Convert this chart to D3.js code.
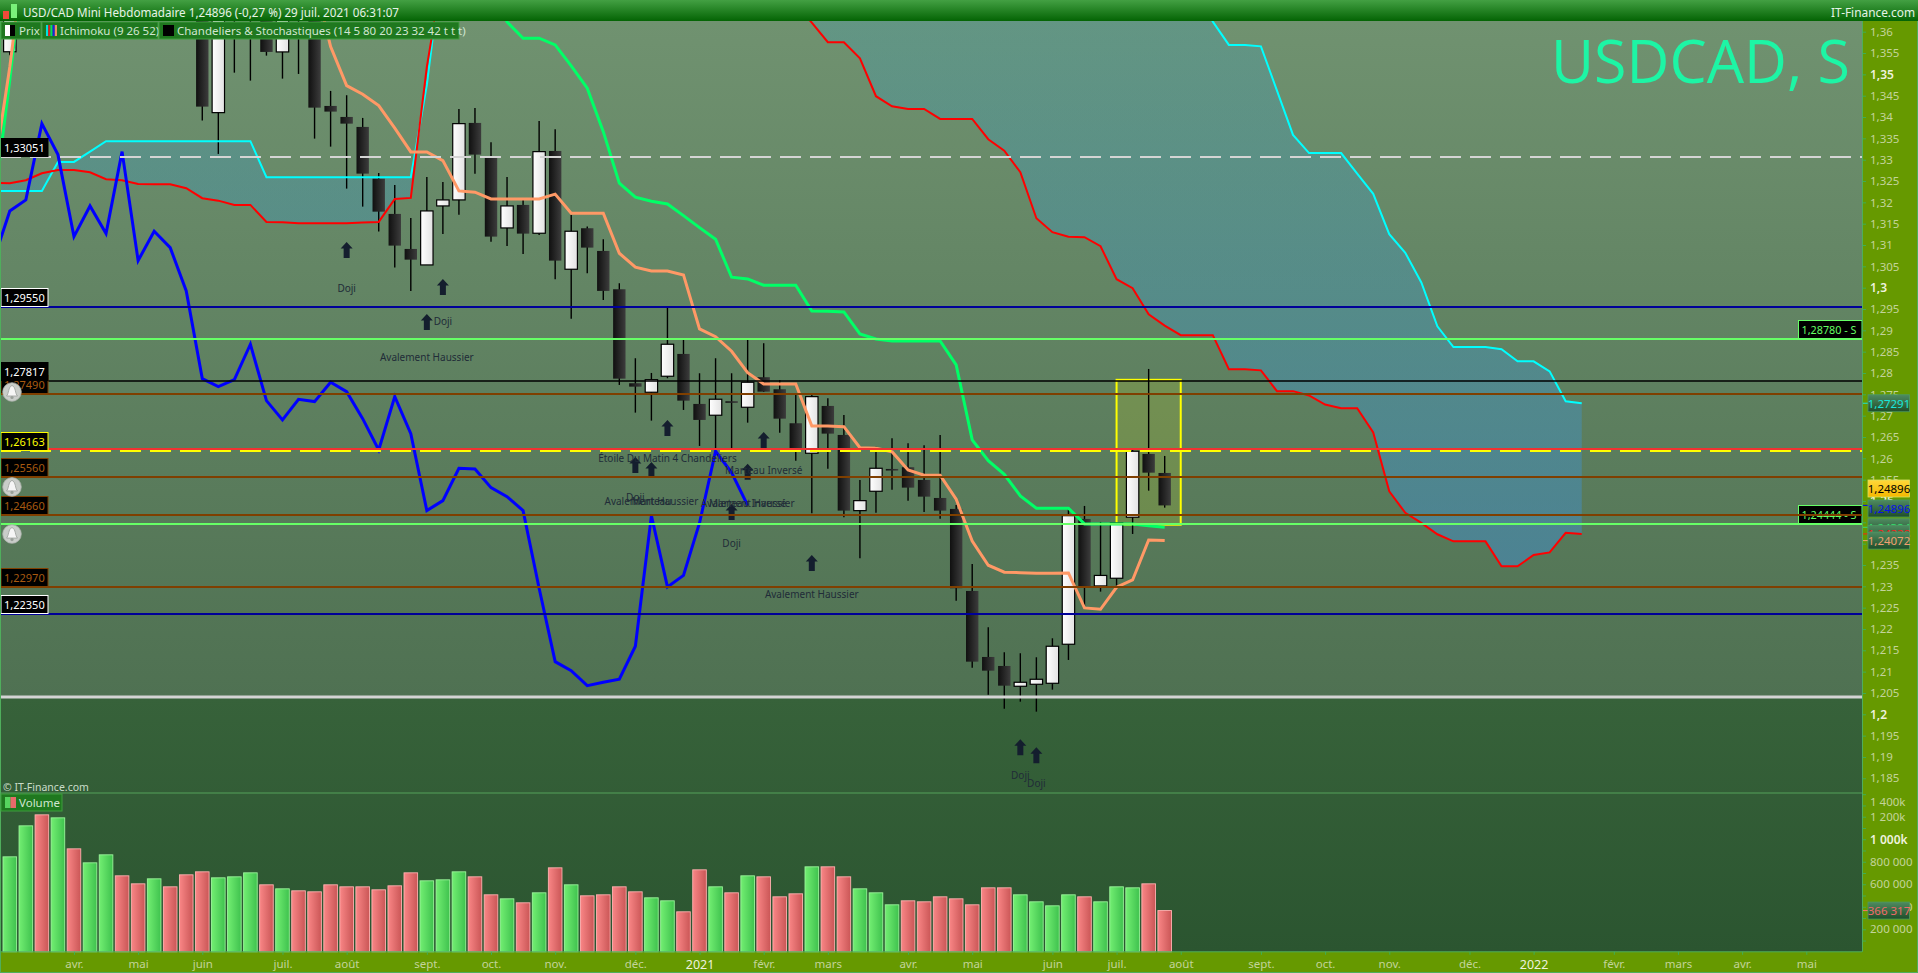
<!DOCTYPE html>
<html>
<head>
<meta charset="utf-8">
<title>USDCAD, S</title>
<script src="https://cdn.jsdelivr.net/npm/d3@7"></script>
<style>
  html, body { margin: 0; padding: 0; background: #669900; overflow: hidden; }
  svg { display: block; font-family: "Noto Sans", sans-serif; }
  .tick text { font-family: "Noto Sans", sans-serif; }
</style>
</head>
<body>
<div id="chart"></div>
<script>
// weekly candles, index 0 is the first visible week. null = above the picture, not readable
var opens = [1.3553,null,null,null,null,null,null,null,null,null,null,null,1.368,1.34103,1.366,1.367,1.366,1.35526,1.369,1.366,
  1.3426,1.34002,1.33768,1.32556,1.31729,1.30908,1.30533,1.31916,1.32057,1.33862,1.33041,1.314,1.3194,1.31276,1.33205,1.30432,1.31393,1.30861,1.29963,1.2776,
  1.27549,1.27924,1.28447,1.27275,1.2701,1.27338,1.27197,1.27901,1.27619,1.26822,1.26119,1.27228,1.26548,1.24774,1.25228,1.25751,1.25791,1.25493,1.25071,1.24814,
  1.22891,1.21344,1.21133,1.20657,1.20704,1.20727,1.21642,1.24579,1.23009,1.23189,1.24619,1.26103,1.25657];
var highs = [1.376,null,null,null,null,null,null,null,null,null,null,null,1.37,1.375,1.372,1.374,1.37,1.369,1.372,1.37,
  1.34612,1.34511,1.33979,1.3269,1.32408,1.31635,1.32596,1.32479,1.3419,1.34213,1.33409,1.32596,1.32057,1.33909,1.33714,1.31705,1.31431,1.31135,1.30104,1.28346,
  1.28001,1.29532,1.28775,1.27994,1.28346,1.27994,1.28775,1.28698,1.27837,1.27486,1.27486,1.27408,1.27017,1.25493,1.26274,1.26471,1.26354,1.26307,1.26548,1.24907,
  1.23524,1.22041,1.21454,1.21431,1.21337,1.21782,1.2483,1.24884,1.24509,1.24485,1.26197,1.28095,1.26056];
var lows = [1.3545,null,null,null,null,null,null,null,null,null,null,null,1.33916,1.33135,1.3504,1.34853,1.35439,1.349,1.3501,1.33494,
  1.33306,1.32322,1.319,1.31314,1.3047,1.29924,1.3053,1.3126,1.31712,1.32673,1.31079,1.30979,1.30791,1.31236,1.30198,1.29274,1.30339,1.29713,1.2772,1.27071,
  1.26883,1.27877,1.27134,1.2629,1.26197,1.2615,1.26836,1.27556,1.26602,1.25946,1.24713,1.25758,1.24619,1.23658,1.24727,1.25266,1.25008,1.24743,1.24586,1.22664,
  1.21093,1.2046,1.20132,1.20296,1.20062,1.20578,1.21274,1.2254,1.22875,1.23009,1.24227,1.25242,1.24844];
var closes = [1.372,null,null,null,null,null,null,null,null,null,null,null,1.34244,1.372,1.369,1.371,1.35526,1.365,1.366,1.3422,
  1.34127,1.33845,1.32673,1.31782,1.30986,1.30657,1.31799,1.32057,1.33845,1.33119,1.31197,1.31916,1.31267,1.33189,1.30634,1.31323,1.30939,1.29924,1.27868,1.2768,
  1.27844,1.28674,1.27352,1.269,1.27385,1.2733,1.27783,1.27563,1.2693,1.26197,1.27446,1.26579,1.24774,1.25008,1.25767,1.2575,1.25313,1.25102,1.24774,1.22955,
  1.21234,1.21023,1.20671,1.20751,1.20821,1.21595,1.24656,1.22985,1.23255,1.24485,1.26166,1.25664,1.24896];

var volumes = [843600,1118900,1216600,1189900,914600,790300,861400,674900,603800,648200,577200,683800,710400,657100,666000,701500,595000,559400,541700,532800,
  595000,577200,577200,550600,586100,701500,630500,639400,710400,666000,506200,470600,435100,523900,745900,595000,497300,506200,577200,532800,
  479500,452900,355200,728200,577200,523900,674900,666000,488400,515000,754800,754800,666000,559400,523900,417400,452900,444000,488400,470600,
  417400,568300,568300,506200,444000,408500,506200,488400,444000,577200,568300,603800,366317];
var volumeUp = [1,1,0,1,0,1,1,0,0,1,0,0,0,1,1,1,0,1,0,0,0,0,0,0,0,0,1,1,1,0,0,1,0,1,0,1,0,0,0,0,
  1,1,0,0,1,0,1,0,0,0,1,0,0,1,1,1,0,0,0,0,0,0,0,1,1,1,1,0,1,1,1,0,0];

// ichimoku lines. Each piece starts at the index named in its Start variable
var chikouStart = -1;
var chikou = [1.30657,1.31799,1.32057,1.33845,1.33119,1.31197,1.31916,1.31267,1.33189,1.30634,1.31323,1.30939,1.29924,1.27868,1.2768,1.27844,1.28674,1.27352,1.269,1.27385,
  1.2733,1.27783,1.27563,1.2693,1.26197,1.27446,1.26579,1.24774,1.25008,1.25767,1.2575,1.25313,1.25102,1.24774,1.22955,1.21234,1.21023,1.20671,1.20751,1.20821,
  1.21595,1.24656,1.22985,1.23255,1.24485,1.26166,1.25664,1.24896];

var tenkanLeftStart = -1;
var tenkanLeft = [1.3269,1.35174,1.3815];
var tenkanStart = 19;
var tenkan = [1.372,1.3565,1.34736,1.34535,1.34267,1.33738,1.33182,1.33182,1.32978,1.32268,1.32237,1.3208,1.3208,1.3208,1.3208,1.32193,1.31745,1.31745,1.31745,1.30807,
  1.30479,1.30392,1.30392,1.30299,1.29033,1.28852,1.2851,1.28009,1.27744,1.27744,1.27744,1.26759,1.26759,1.26743,1.2625,1.26236,1.26156,1.25728,1.25603,1.25603,
  1.25041,1.24063,1.23494,1.2333,1.2332,1.23306,1.23306,1.23313,1.22493,1.22462,1.22978,1.23149,1.24087,1.24072];

var kijunLeftStart = -1;
var kijunLeft = [1.31893,1.3487,1.3815];
var kijunStart = 30;
var kijun = [1.372,1.36229,1.35847,1.35847,1.3569,1.35198,1.34675,1.33658,1.32448,1.3212,1.32026,1.31963,1.31689,1.31407,1.31135,1.30245,1.30205,1.30057,1.30057,1.30057,
  1.29455,1.29448,1.29431,1.28916,1.28799,1.28752,1.28752,1.28752,1.28752,1.28189,1.26431,1.25946,1.25627,1.25118,1.2483,1.2483,1.2483,1.24462,1.24462,1.24462,
  1.24462,1.24422,1.24384];

var senkouLeftStart = -1;
var senkouALeft = [1.32268,1.32268,1.32268,1.32268,1.32948,1.32948,1.33189,1.33433,1.33433,1.33433,1.33433,1.33433,1.33433,1.33433,1.33433,1.33433,1.33433,1.32589,1.32589,1.32589,
  1.32589,1.32589,1.32589,1.32589,1.32589,1.32589,1.32589,1.34753,1.3775];
var senkouBLeft = [1.32455,1.32449,1.32519,1.32683,1.3276,1.3276,1.32706,1.32542,1.32519,1.32432,1.32425,1.32425,1.32331,1.32097,1.3204,1.3194,1.3194,1.31541,1.31534,1.31511,
  1.31511,1.31511,1.31511,1.31525,1.31541,1.3208,1.32104,1.35174,1.3745];

var senkouBRightStart = 49;
var senkouBRight = [1.36628,1.36213,1.35753,1.35753,1.35378,1.34488,1.34253,1.3419,1.3419,1.33956,1.33956,1.33956,1.3348,1.33212,1.32706,1.31628,1.313,1.31196,1.31182,1.30972,
  1.30198,1.29987,1.29378,1.2911,1.28887,1.28887,1.28887,1.28088,1.28088,1.28062,1.27575,1.27575,1.27474,1.27261,1.27176,1.27176,1.26607,1.25226,1.24722,1.24488,
  1.2422,1.24054,1.24054,1.24054,1.23468,1.23468,1.23735,1.23794,1.24253,1.24228];
var senkouARightStart = 74;
var senkouARight = [1.36862,1.36236,1.3569,1.3569,1.35657,1.34619,1.3358,1.33154,1.33154,1.33154,1.32676,1.322,1.31253,1.30817,1.30123,1.29094,1.28609,1.28609,1.28609,1.28557,
  1.28273,1.28273,1.28039,1.27336,1.27291];

// horizontal levels, in the order they are stacked
var levelPrices = [1.33051,1.2955,1.2878,1.2749,1.27817,1.2622,1.26163,1.2556,1.2466,1.24444,1.2297,1.2235,1.204];
var levelLabels = ["1,33051","1,29550","1,28780 - S","1,27490","1,27817",null,"1,26163","1,25560","1,24660","1,24444 - S","1,22970","1,22350",null];
var levelKinds = ["dash","navy","support","brown","black","red","yellow","brown","brown","support","brown","navy","floor"];

var bellPrices = [1.27555,1.2533,1.24225];

// yellow box on the last weeks
var zoneFrom = 69, zoneTo = 73, zoneHigh = 1.2784, zoneLow = 1.24444;

// candle pattern marks
var arrowIndex = [21,27,26,41,47,39,40,46,45,50,63,64];
var arrowPrice = [1.30885,1.30017,1.29197,1.26712,1.26431,1.25845,1.25728,1.25688,1.24743,1.23548,1.19228,1.1904];
var patternText = ["Doji","Doji","Avalement Haussier","Étoile Du Matin 4 Chandeliers","Marteau Inversé","Doji","Avalement Haussier","Marteau","Avalement Haussier","Marteau Inversé","Doji","Avalement Haussier","Doji","Doji"];
var patternIndex = [21,27,26,41,47,39,40,40,46,46,45,50,63,64];
var patternPrice = [1.29978,1.29204,1.2836,1.25993,1.25711,1.25088,1.24985,1.24985,1.24938,1.24938,1.24,1.22805,1.18562,1.18374];

// axis labels
var priceTicks = [1.36,1.355,1.35,1.345,1.34,1.335,1.33,1.325,1.32,1.315,1.31,1.305,1.3,1.295,1.29,1.285,1.28,1.275,1.27,1.265,1.26,1.255,1.25,1.245,1.24,1.235,1.23,1.225,1.22,1.215,1.21,1.205,1.2,1.195,1.19,1.185];
var priceMajor = [1.35,1.3,1.25,1.2];
var volumeTicks = [1400000,1300000,1200000,1100000,1000000,900000,800000,700000,600000,500000,400000,300000,200000,100000];
var volumeTickLabels = {1400000:"1 400k",1200000:"1 200k",1000000:"1 000k",800000:"800 000",600000:"600 000",400000:"400 000",200000:"200 000"};
var monthIndex = [4,8,12,17,21,26,30,34,39,43,47,51,56,60,65,69,73,78,82,86,91,95,100,104,108,112];
var monthLabels = ["avr.","mai","juin","juil.","août","sept.","oct.","nov.","déc.","2021","févr.","mars","avr.","mai","juin","juil.","août","sept.","oct.","nov.","déc.","2022","févr.","mars","avr.","mai"];

// value tags on the right, bottom one last drawn on top
var tagValues = [1.27291,1.24896,1.24896,1.24384,1.24228,1.24072];
var tagTexts = ["1,27291","1,24896","1,24896","1,24384","1,24228","1,24072"];
var tagColors = ["#19e6dc","#000","#0a14e6","#35e070","#ff1a1a","#f0a070"];

var titleText = "USD/CAD Mini Hebdomadaire 1,24896 (-0,27 %) 29 juil. 2021 06:31:07";
var watermark = "USDCAD, S";

var width = 1918, height = 973;
var plotRight = 1862, headerBottom = 21, panelSplit = 793, volumeBottom = 951.8;

var svg = d3.select("#chart").append("svg").attr("width", width).attr("height", height);
var defs = svg.append("defs");

function gradient(id, horizontal, stops){
    var g = defs.append("linearGradient").attr("id", id)
        .attr("x1", 0).attr("y1", 0)
        .attr("x2", horizontal ? 1 : 0).attr("y2", horizontal ? 0 : 1);
    stops.forEach(function(s){
        g.append("stop").attr("offset", s[0]).attr("stop-color", s[1]);
    });
}
gradient("header", false, [[0,"#43a043"],[1,"#046404"]]);
gradient("zoneBg", false, [[0,"#709270"],[1,"#4f7152"]]);
gradient("lowBg", false, [[0,"#37623a"],[1,"#2b5530"]]);
gradient("whiteBody", true, [[0,"#ffffff"],[1,"#e2e2e2"]]);
gradient("blackBody", true, [[0,"#101010"],[1,"#3c3c3c"]]);
gradient("upBar", true, [[0,"#72ee72"],[1,"#3fc24e"]]);
gradient("downBar", true, [[0,"#f98686"],[1,"#ca5656"]]);
gradient("tagBg", false, [[0,"#4f8a60"],[1,"#1f4d2a"]]);
gradient("tagYellow", false, [[0,"#ffd83a"],[1,"#f4b800"]]);

// cloud tint gets stronger toward the bottom of the chart
var cloudGrad = defs.append("linearGradient").attr("id", "cloudFill")
    .attr("gradientUnits", "userSpaceOnUse").attr("x1", 0).attr("x2", 0).attr("y1", 21).attr("y2", 560);
cloudGrad.append("stop").attr("offset", 0).attr("stop-color", "rgb(60,160,190)").attr("stop-opacity", 0.25);
cloudGrad.append("stop").attr("offset", 1).attr("stop-color", "rgb(67,142,205)").attr("stop-opacity", 0.5);

defs.append("clipPath").attr("id", "plotClip").append("rect")
    .attr("x", 0).attr("y", headerBottom).attr("width", plotRight).attr("height", panelSplit - headerBottom);

// scales
var x = d3.scaleLinear().domain([0, 112]).range([9.8, 1806.3]);
var y = d3.scaleLinear().domain([1.2, 1.36]).range([714.3, 31.7]);
var yVol = d3.scaleLinear().domain([0, 1400000]).range([volumeBottom, 794.2]);

// backgrounds
svg.append("rect").attr("width", width).attr("height", height).attr("fill", "#669900");
svg.append("rect").attr("x", 0).attr("y", y(1.204)).attr("width", plotRight).attr("height", volumeBottom - y(1.204)).attr("fill", "url(#lowBg)");
svg.append("rect").attr("x", 0).attr("y", headerBottom).attr("width", plotRight).attr("height", y(1.204) - headerBottom).attr("fill", "url(#zoneBg)");

var plot = svg.append("g").attr("clip-path", "url(#plotClip)");

// cloud
var cloud = d3.area()
    .x(function(d){ return x(d.i); })
    .y0(function(d){ return y(d.b); })
    .y1(function(d){ return y(d.a); });
var cloudLeft = senkouALeft.map(function(a, k){ return {i: senkouLeftStart + k, a: a, b: senkouBLeft[k]}; });
var cloudRight = senkouBRight.map(function(b, k){
    var i = senkouBRightStart + k;
    var a = i >= senkouARightStart ? senkouARight[i - senkouARightStart] : 1.40; // cyan is off the top here
    return {i: i, a: a, b: b};
});
[cloudLeft, cloudRight].forEach(function(c){
    plot.append("path").attr("d", cloud(c)).attr("fill", "url(#cloudFill)");
});

// yellow box
plot.append("rect")
    .attr("x", x(zoneFrom)).attr("y", y(zoneHigh))
    .attr("width", x(zoneTo) - x(zoneFrom)).attr("height", y(zoneLow) - y(zoneHigh))
    .attr("fill", "#ffff00").attr("fill-opacity", 0.13)
    .attr("stroke", "#ffff00").attr("stroke-width", 2);

// candles
var candles = opens.map(function(o, i){
    return {i: i, o: o, h: highs[i], l: lows[i], c: closes[i]};
}).filter(function(d){ return d.o !== null; });

plot.selectAll("line.wick").data(candles).enter().append("line")
    .attr("class", "wick")
    .attr("x1", function(d){ return x(d.i); }).attr("x2", function(d){ return x(d.i); })
    .attr("y1", function(d){ return y(d.h); }).attr("y2", function(d){ return y(d.l); })
    .attr("stroke", "#000").attr("stroke-width", 1.4);

plot.selectAll("rect.body").data(candles).enter().append("rect")
    .attr("class", "body")
    .attr("x", function(d){ return x(d.i) - 6.2; })
    .attr("width", 12.4)
    .attr("y", function(d){ return y(Math.max(d.o, d.c)); })
    .attr("height", function(d){ return Math.max(1.6, Math.abs(y(d.o) - y(d.c))); })
    .attr("fill", function(d){ return d.c > d.o ? "url(#whiteBody)" : "url(#blackBody)"; })
    .attr("stroke", function(d){ return d.c > d.o ? "#000" : "none"; })
    .attr("stroke-width", 1.2);

// ichimoku lines
var lineGen = d3.line()
    .x(function(d){ return x(d.i); })
    .y(function(d){ return y(d.v); });

function drawLine(values, start, color, w){
    var pts = values.map(function(v, k){ return {i: start + k, v: v}; });
    plot.append("path").attr("d", lineGen(pts))
        .attr("fill", "none").attr("stroke", color).attr("stroke-width", w)
        .attr("stroke-linejoin", "miter");
}
drawLine(senkouALeft, senkouLeftStart, "#00ffff", 2);
drawLine(senkouARight, senkouARightStart, "#00ffff", 2);
drawLine(senkouBLeft, senkouLeftStart, "#ff0000", 2);
drawLine(senkouBRight, senkouBRightStart, "#ff0000", 2);
drawLine(chikou, chikouStart, "#0000ff", 3);
drawLine(kijunLeft, kijunLeftStart, "#00ff66", 3);
drawLine(kijun, kijunStart, "#00ff66", 3);
drawLine(tenkanLeft, tenkanLeftStart, "#ff9966", 3);
drawLine(tenkan, tenkanStart, "#ff9966", 3);

// pattern arrows and names
var arrowShape = "M0,-8 L6,-1.5 L3,-1.5 L3,8 L-3,8 L-3,-1.5 L-6,-1.5 Z";
plot.selectAll("path.arrow").data(arrowIndex).enter().append("path")
    .attr("class", "arrow").attr("d", arrowShape).attr("fill", "#141e2e")
    .attr("transform", function(d, k){ return "translate(" + x(d) + "," + y(arrowPrice[k]) + ")"; });

plot.selectAll("text.pattern").data(patternText).enter().append("text")
    .attr("class", "pattern")
    .attr("x", function(d, k){ return x(patternIndex[k]); })
    .attr("y", function(d, k){ return y(patternPrice[k]); })
    .attr("dy", "0.35em").attr("text-anchor", "middle")
    .attr("font-size", 10).attr("fill", "#212c38")
    .text(function(d){ return d; });

// level lines
var levelStyle = {
    dash:    {stroke: "#d4d4d4", w: 2, dash: "21 9", tag: "#fff", border: "#000"},
    navy:    {stroke: "#000099", w: 2, tag: "#fff", border: "#fff"},
    support: {stroke: "#66ff66", w: 2, tag: "#66ff66", border: "#66ff66"},
    brown:   {stroke: "#7f3f00", w: 2, tag: "#a85a10", border: "#7f3f00"},
    black:   {stroke: "#000", w: 1.4, tag: "#fff", border: "#000"},
    red:     {stroke: "#f03232", w: 2},
    yellow:  {stroke: "#ffff00", w: 2, dash: "21 9", tag: "#ffff00", border: "#ffff00"},
    floor:   {stroke: "#d4d4d4", w: 3}
};
function levelY(p){ return Math.round(y(p) - 0.3); }

var levelG = svg.append("g");
levelPrices.forEach(function(p, k){
    var st = levelStyle[levelKinds[k]];
    var ly = levelY(p);
    levelG.append("line").attr("x1", 0).attr("x2", plotRight)
        .attr("y1", ly).attr("y2", ly)
        .attr("stroke", st.stroke).attr("stroke-width", st.w)
        .attr("stroke-dasharray", st.dash || null);
});

var tagG = svg.append("g");
levelPrices.forEach(function(p, k){
    var st = levelStyle[levelKinds[k]];
    var label = levelLabels[k];
    if(label === null) return;
    var ly = levelY(p);
    var onRight = levelKinds[k] === "support";
    var bx = onRight ? 1798.5 : 1;
    var bw = onRight ? 63.5 : 47;
    var g = onRight ? levelG : tagG;
    g.append("rect").attr("x", bx).attr("y", ly - 18.5)
        .attr("width", bw).attr("height", 18)
        .attr("fill", "#000").attr("stroke", st.border).attr("stroke-width", 1);
    g.append("text").attr("x", bx + 3).attr("y", ly - 5.5)
        .attr("font-size", onRight ? 10.8 : 11).attr("fill", st.tag).text(label);
});
// the brown line runs over the 1,24444 tag
levelG.append("line").attr("x1", 0).attr("x2", plotRight)
    .attr("y1", levelY(1.2466)).attr("y2", levelY(1.2466))
    .attr("stroke", "#7f3f00").attr("stroke-width", 2);

// alert bells
bellPrices.forEach(function(p){
    var g = svg.append("g").attr("transform", "translate(12," + y(p) + ")");
    g.append("circle").attr("r", 9.3).attr("fill", "#c9cdc9").attr("stroke", "#aab0aa").attr("stroke-width", 0.8);
    g.append("path").attr("d", "M-5.5,4 C-3,2 -4,-5 0,-6.5 C4,-5 3,2 5.5,4 Z").attr("fill", "#f6f6f6").attr("stroke", "#9a9e9a").attr("stroke-width", 0.8);
    g.append("circle").attr("cy", 5.5).attr("r", 1.6).attr("fill", "#9aa09a");
});

// watermark
svg.append("text").attr("x", 1551).attr("y", 83)
    .attr("font-family", "'Open Sans', sans-serif").attr("font-size", 60)
    .attr("textLength", 299).attr("lengthAdjust", "spacingAndGlyphs")
    .attr("fill", "#1df5a5").text(watermark);

// copyright and panel split
svg.append("text").attr("x", 3).attr("y", 791).attr("font-size", 10.5).attr("fill", "#c9dcc9").text("© IT-Finance.com");
svg.append("line").attr("x1", 0).attr("x2", plotRight).attr("y1", panelSplit).attr("y2", panelSplit)
    .attr("stroke", "#55a25a").attr("stroke-width", 1);

// volume bars
svg.selectAll("rect.vol").data(volumes).enter().append("rect")
    .attr("class", "vol")
    .attr("x", function(d, i){ return x(i) - 6.8; })
    .attr("width", 13.6)
    .attr("y", function(d){ return yVol(d); })
    .attr("height", function(d){ return volumeBottom - yVol(d); })
    .attr("fill", function(d, i){ return volumeUp[i] ? "url(#upBar)" : "url(#downBar)"; })
    .attr("stroke", function(d, i){ return volumeUp[i] ? "#9af59a" : "#ffb0b0"; })
    .attr("stroke-width", 0.9);

// axes
var axisTick = "#3fae55", axisText = "#c3d49a";
var priceAxis = d3.axisRight(y).tickValues(priceTicks).tickSize(4).tickPadding(4)
    .tickFormat(function(v){ return String(v).replace(".", ","); });
var priceG = svg.append("g").attr("transform", "translate(" + plotRight + ",0)").call(priceAxis);
priceG.select(".domain").remove();

var volAxis = d3.axisRight(yVol).tickValues(volumeTicks).tickSize(4).tickPadding(4)
    .tickFormat(function(v){ return volumeTickLabels[v] || ""; });
var volG = svg.append("g").attr("transform", "translate(" + plotRight + ",0)").call(volAxis);
volG.select(".domain").remove();

[priceG, volG].forEach(function(g){
    g.selectAll("line").attr("stroke", axisTick).attr("stroke-width", 1);
    g.selectAll("text").attr("fill", axisText).attr("font-size", 11.5);
});
priceG.selectAll("text").filter(function(d){ return priceMajor.indexOf(d) >= 0; })
    .attr("fill", "#eef2de").attr("font-weight", 600).attr("font-size", 12);
volG.selectAll("text").filter(function(d){ return d === 1000000; })
    .attr("fill", "#eef2de").attr("font-weight", 600).attr("font-size", 12);
// the top label sits lower so it stays inside the panel
volG.selectAll("text").filter(function(d){ return d === 1400000; }).attr("y", 8);

var timeAxis = d3.axisBottom(x).tickValues(monthIndex).tickSize(3).tickPadding(5)
    .tickFormat(function(d, k){ return monthLabels[k]; });
var timeG = svg.append("g").attr("transform", "translate(0," + volumeBottom + ")").call(timeAxis);
timeG.select(".domain").remove();
timeG.selectAll("line").attr("stroke", axisTick).attr("stroke-width", 1);
timeG.selectAll("text").attr("fill", axisText).attr("font-size", 11.5);
timeG.selectAll("text").filter(function(d){ return d === 43 || d === 95; })
    .attr("fill", "#eef2de").attr("font-size", 12.5);

// plot frame
svg.append("line").attr("x1", plotRight + 0.5).attr("x2", plotRight + 0.5).attr("y1", headerBottom).attr("y2", volumeBottom)
    .attr("stroke", "#4fae5c").attr("stroke-width", 1);
svg.append("line").attr("x1", 0).attr("x2", plotRight).attr("y1", volumeBottom).attr("y2", volumeBottom)
    .attr("stroke", "#4fae5c").attr("stroke-width", 1);
svg.append("rect").attr("x", 0.5).attr("y", 0.5).attr("width", width - 1).attr("height", height - 1)
    .attr("fill", "none").attr("stroke", "#4fae5c");

// tags on the price axis
var tagG2 = svg.append("g");
tagValues.forEach(function(v, k){
    var ty = y(v);
    var yellowTag = k === 1;
    var boxY = yellowTag ? 480 : ty - 8.5;
    if(k === 2) boxY = 500;
    tagG2.append("line").attr("x1", plotRight + 1).attr("x2", plotRight + 6).attr("y1", ty).attr("y2", ty)
        .attr("stroke", yellowTag ? "#222" : tagColors[k]);
    tagG2.append("rect").attr("x", 1868).attr("y", boxY).attr("width", 41.5).attr("height", 17)
        .attr("fill", yellowTag ? "url(#tagYellow)" : "url(#tagBg)")
        .attr("stroke", yellowTag ? "#d8e060" : "#4c9a62").attr("stroke-width", 0.8);
    tagG2.append("text").attr("x", 1889).attr("y", boxY + 13).attr("text-anchor", "middle")
        .attr("font-size", 11.5).attr("fill", tagColors[k]).text(tagTexts[k]);
});
// last volume tag
var lastVol = volumes[volumes.length - 1];
tagG2.append("line").attr("x1", plotRight + 1).attr("x2", plotRight + 6).attr("y1", yVol(lastVol)).attr("y2", yVol(lastVol)).attr("stroke", "#ff7070");
tagG2.append("rect").attr("x", 1868).attr("y", yVol(lastVol) - 8.5).attr("width", 41.5).attr("height", 17)
    .attr("fill", "url(#tagBg)").attr("stroke", "#4c9a62").attr("stroke-width", 0.8);
tagG2.append("text").attr("x", 1889).attr("y", yVol(lastVol) + 4.5).attr("text-anchor", "middle")
    .attr("font-size", 11.5).attr("fill", "#f06a6a").text("366 317");

// header bar
svg.append("rect").attr("width", width).attr("height", headerBottom).attr("fill", "url(#header)");
svg.append("rect").attr("x", 3).attr("y", 11).attr("width", 6).attr("height", 8).attr("fill", "#f04a3a");
svg.append("rect").attr("x", 11).attr("y", 4).attr("width", 6).attr("height", 14).attr("fill", "#7af07a");
svg.append("text").attr("x", 23).attr("y", 17).attr("font-size", 12.5)
    .attr("textLength", 376).attr("lengthAdjust", "spacingAndGlyphs")
    .attr("fill", "#e6f4e6").text(titleText);
svg.append("text").attr("x", 1831).attr("y", 17).attr("font-size", 12.5)
    .attr("textLength", 84).attr("lengthAdjust", "spacingAndGlyphs")
    .attr("fill", "#e6f4e6").text("IT-Finance.com");

// indicator legend row
var legendX = [1, 42, 159];
var legendW = [40, 116, 300];
var legendText = ["Prix", "Ichimoku (9 26 52)", "Chandeliers & Stochastiques (14 5 80 20 23 32 42 t t t)"];
legendText.forEach(function(t, k){
    svg.append("rect").attr("x", legendX[k]).attr("y", 22).attr("width", legendW[k]).attr("height", 17)
        .attr("fill", "#1f781f").attr("stroke", "#3e9e3e").attr("stroke-width", 1);
    svg.append("text").attr("x", legendX[k] + 18).attr("y", 35).attr("font-size", 11.5).attr("fill", "#cfe6cf").text(t);
});
svg.append("rect").attr("x", 5).attr("y", 25).attr("width", 5).attr("height", 11).attr("fill", "#fff");
svg.append("rect").attr("x", 10).attr("y", 25).attr("width", 5).attr("height", 11).attr("fill", "#000");
["#00e0e0", "#e02020", "#00e060", "#2020e0", "#f09060"].forEach(function(c, k){
    svg.append("rect").attr("x", 46 + k * 2.2).attr("y", 25).attr("width", 2.2).attr("height", 11).attr("fill", c);
});
svg.append("rect").attr("x", 163).attr("y", 25).attr("width", 11).attr("height", 11).attr("fill", "#000");

// volume legend
svg.append("rect").attr("x", 1).attr("y", 794).attr("width", 61).attr("height", 17)
    .attr("fill", "#1f781f").attr("stroke", "#3e9e3e").attr("stroke-width", 1);
svg.append("rect").attr("x", 5).attr("y", 797).attr("width", 5.5).attr("height", 11).attr("fill", "#56d45e");
svg.append("rect").attr("x", 10.5).attr("y", 797).attr("width", 5.5).attr("height", 11).attr("fill", "#e86a6a");
svg.append("text").attr("x", 19).attr("y", 807).attr("font-size", 11.5).attr("fill", "#cfe6cf").text("Volume");
</script>
</body>
</html>
